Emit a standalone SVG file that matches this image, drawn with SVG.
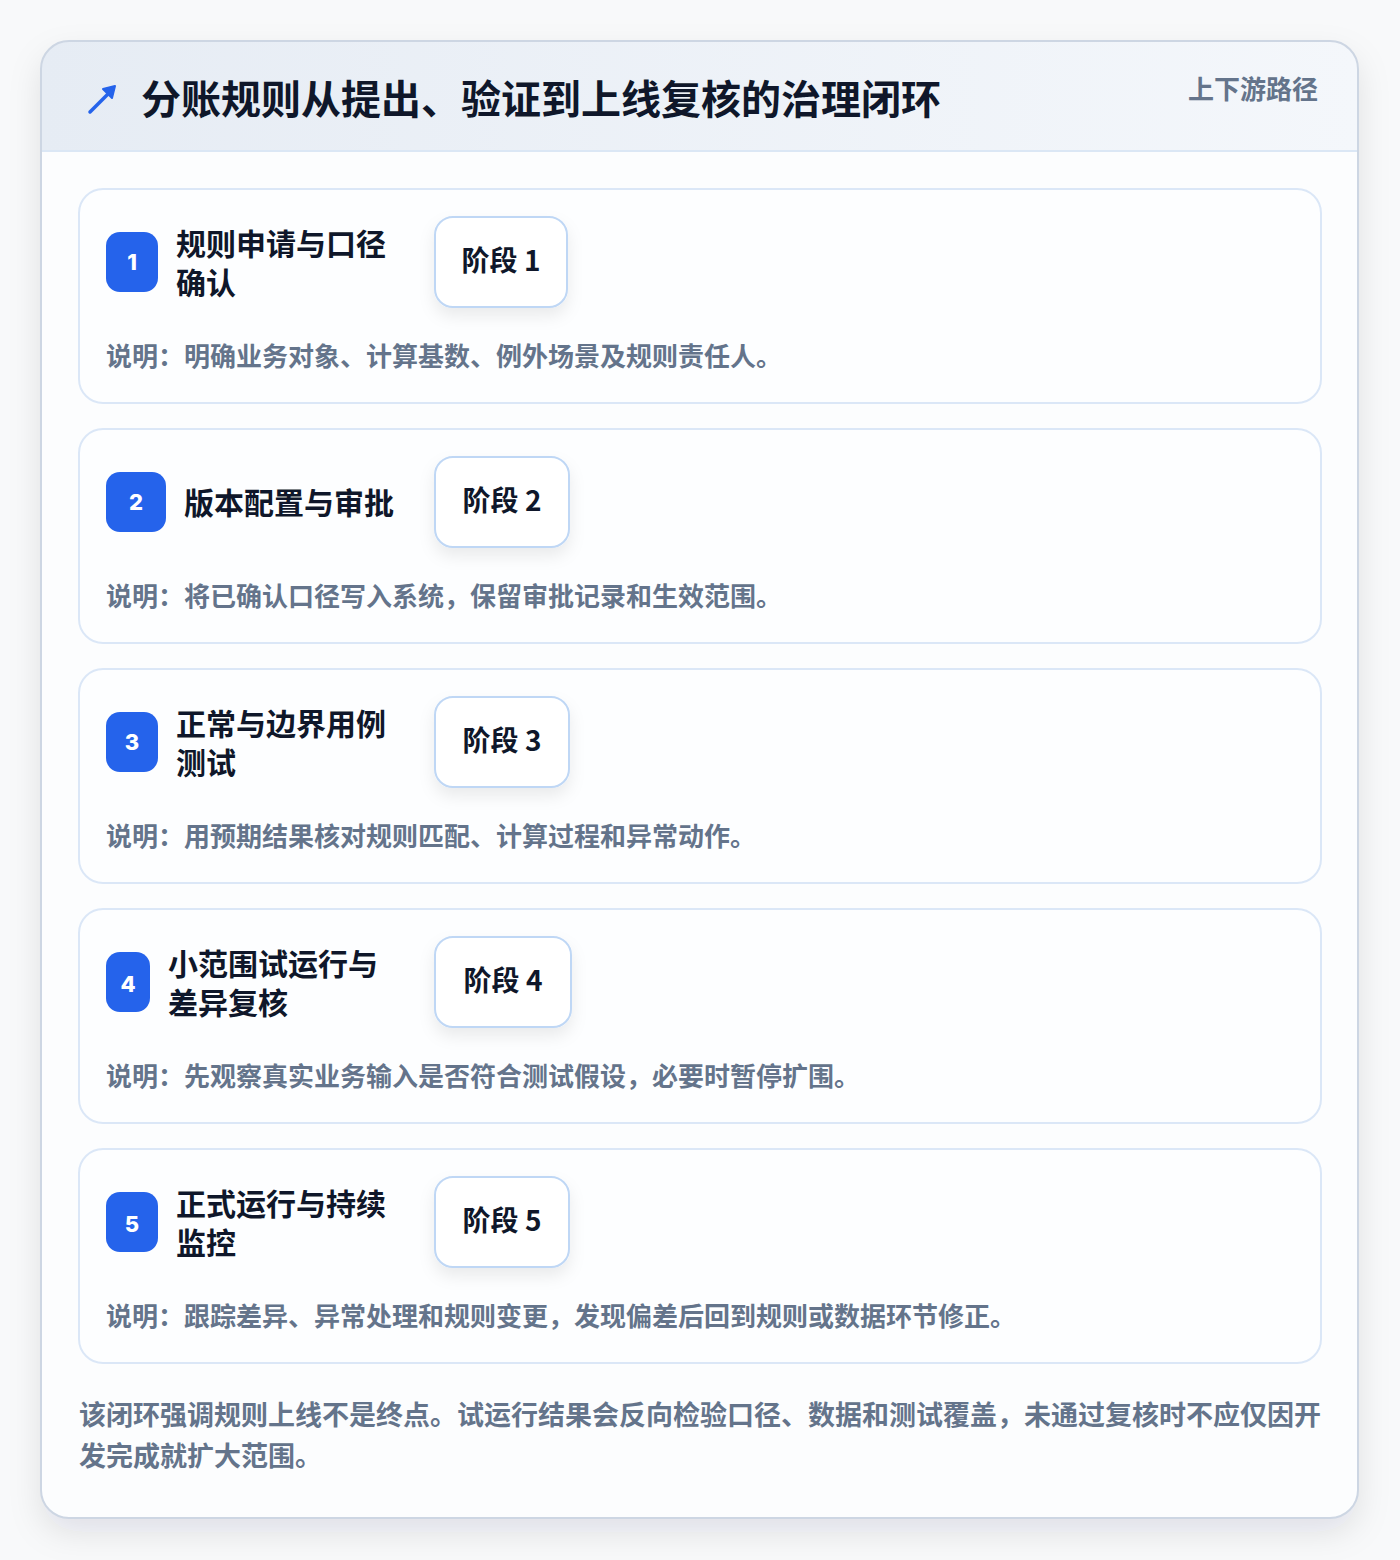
<svg xmlns="http://www.w3.org/2000/svg" width="1400" height="1560" viewBox="0 0 1400 1560">
<defs>
<linearGradient id="hdr" x1="0" y1="0" x2="1" y2="0">
<stop offset="0" stop-color="#e6ecf4"/>
<stop offset="1" stop-color="#f4f7fb"/>
</linearGradient>
<filter id="sh" x="-10%" y="-10%" width="120%" height="120%">
<feDropShadow dx="0" dy="14" stdDeviation="16" flood-color="#0f172a" flood-opacity="0.10"/>
</filter>
<filter id="sh2" x="-30%" y="-30%" width="160%" height="180%">
<feDropShadow dx="0" dy="8" stdDeviation="8" flood-color="#0f172a" flood-opacity="0.08"/>
</filter>
<clipPath id="cardclip"><rect x="41" y="41" width="1317" height="1477" rx="28"/></clipPath>
<style>
.t{font-family:"Noto Sans CJK SC","Noto Sans",sans-serif;font-weight:700}
.title{font-size:40px;fill:#0f172a}
.sub{font-size:26px;fill:#64748b}
.card{fill:#fdfeff;stroke:#dbe7f7;stroke-width:2}
.badge{fill:#2563eb}
.num{font-family:Inter,"Noto Sans",sans-serif;font-weight:800;font-size:22px;fill:#ffffff}
.st{font-size:30px;fill:#0f172a}
.pill{fill:#ffffff;stroke:#bfd7f5;stroke-width:2}
.pt{font-size:28px;fill:#0f172a}
.desc{font-size:26px;fill:#64748b}
.foot{font-size:27px;fill:#64748b}
</style>
</defs>
<rect width="1400" height="1560" fill="#f8f9fa"/>
<rect x="41" y="41" width="1317" height="1477" rx="28" fill="#ffffff" filter="url(#sh)"/>
<g clip-path="url(#cardclip)">
<rect x="41" y="41" width="1317" height="110" fill="url(#hdr)"/>
<rect x="41" y="151" width="1317" height="1367" fill="#fcfdfe"/>
<line x1="41" y1="151" x2="1358" y2="151" stroke="#dbe7f5" stroke-width="2"/>
</g>
<rect x="41" y="41" width="1317" height="1477" rx="28" fill="none" stroke="#cdd6e3" stroke-width="2"/>
<g id="header">
<path d="M90 112 L110 92" stroke="#2563eb" stroke-width="3.5" stroke-linecap="round" fill="none"/>
<path d="M115 86 L103 89 L112 98 Z" fill="#2563eb" stroke="#2563eb" stroke-width="2" stroke-linejoin="round"/>
<text class="t title" x="141" y="114">分账规则从提出、验证到上线复核的治理闭环</text>
<text class="t sub" x="1318" y="99" text-anchor="end">上下游路径</text>
</g>
<g id="step1">
<rect class="card" x="79" y="189" width="1242" height="214" rx="24"/>
<rect class="badge" x="106" y="232" width="52" height="60" rx="14"/>
<text class="num" x="132" y="270" text-anchor="middle">1</text>
<text class="t st" x="176" y="255">规则申请与口径<tspan x="176" dy="39">确认</tspan></text>
<rect class="pill" x="435" y="217" width="132" height="90" rx="18" filter="url(#sh2)"/>
<text class="t pt" x="501" y="271" text-anchor="middle">阶段 1</text>
<text class="t desc" x="106" y="366">说明：明确业务对象、计算基数、例外场景及规则责任人。</text>
</g>
<g id="step2">
<rect class="card" x="79" y="429" width="1242" height="214" rx="24"/>
<rect class="badge" x="106" y="472" width="60" height="60" rx="14"/>
<text class="num" x="136" y="510" text-anchor="middle">2</text>
<text class="t st" x="184" y="514">版本配置与审批</text>
<rect class="pill" x="435" y="457" width="134" height="90" rx="18" filter="url(#sh2)"/>
<text class="t pt" x="502" y="511" text-anchor="middle">阶段 2</text>
<text class="t desc" x="106" y="606">说明：将已确认口径写入系统，保留审批记录和生效范围。</text>
</g>
<g id="step3">
<rect class="card" x="79" y="669" width="1242" height="214" rx="24"/>
<rect class="badge" x="106" y="712" width="52" height="60" rx="14"/>
<text class="num" x="132" y="750" text-anchor="middle">3</text>
<text class="t st" x="176" y="735">正常与边界用例<tspan x="176" dy="39">测试</tspan></text>
<rect class="pill" x="435" y="697" width="134" height="90" rx="18" filter="url(#sh2)"/>
<text class="t pt" x="502" y="751" text-anchor="middle">阶段 3</text>
<text class="t desc" x="106" y="846">说明：用预期结果核对规则匹配、计算过程和异常动作。</text>
</g>
<g id="step4">
<rect class="card" x="79" y="909" width="1242" height="214" rx="24"/>
<rect class="badge" x="106" y="952" width="44" height="60" rx="14"/>
<text class="num" x="128" y="992" text-anchor="middle">4</text>
<text class="t st" x="168" y="975">小范围试运行与<tspan x="168" dy="39">差异复核</tspan></text>
<rect class="pill" x="435" y="937" width="136" height="90" rx="18" filter="url(#sh2)"/>
<text class="t pt" x="503" y="991" text-anchor="middle">阶段 4</text>
<text class="t desc" x="106" y="1086">说明：先观察真实业务输入是否符合测试假设，必要时暂停扩围。</text>
</g>
<g id="step5">
<rect class="card" x="79" y="1149" width="1242" height="214" rx="24"/>
<rect class="badge" x="106" y="1192" width="52" height="60" rx="14"/>
<text class="num" x="132" y="1232" text-anchor="middle">5</text>
<text class="t st" x="176" y="1215">正式运行与持续<tspan x="176" dy="39">监控</tspan></text>
<rect class="pill" x="435" y="1177" width="134" height="90" rx="18" filter="url(#sh2)"/>
<text class="t pt" x="502" y="1231" text-anchor="middle">阶段 5</text>
<text class="t desc" x="106" y="1326">说明：跟踪差异、异常处理和规则变更，发现偏差后回到规则或数据环节修正。</text>
</g>
<g id="connectors"></g>
<g id="footer">
<text class="t foot" x="79" y="1425">该闭环强调规则上线不是终点。试运行结果会反向检验口径、数据和测试覆盖，未通过复核时不应仅因开<tspan x="79" dy="41">发完成就扩大范围。</tspan></text>
</g>
</svg>
